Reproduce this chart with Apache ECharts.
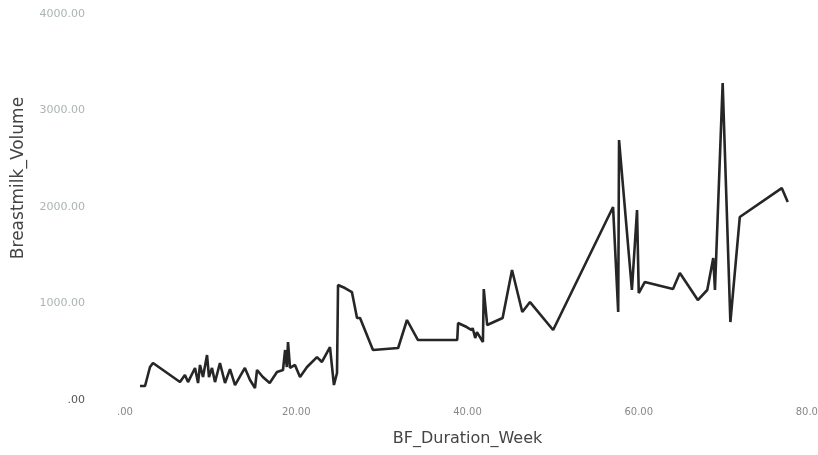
<!DOCTYPE html>
<html>
<head>
<meta charset="utf-8">
<title>Breastmilk volume by BF duration</title>
<script src="https://cdn.jsdelivr.net/npm/echarts@6/dist/echarts.min.js"></script>
<style>
  html, body { margin: 0; padding: 0; background: #fff; }
  #chart { width: 818px; height: 455px; }
</style>
</head>
<body>
<div id="chart"></div>
<script>
// weeks of breastfeeding (x) and breastmilk volume (y)
var weeks = [
  1.75, 2.34, 2.92, 3.27, 6.42, 7.0, 7.36, 8.18, 8.53, 8.76,
  9.11, 9.58, 9.81, 10.16, 10.51, 11.09, 11.68, 12.26, 12.85, 14.0,
  14.6, 15.18, 15.42, 16.1, 16.9, 17.75, 18.45, 18.7, 18.9, 19.04,
  19.27, 19.85, 20.44, 21.26, 22.42, 23.0, 23.94, 24.4, 24.76, 24.88,
  25.69, 26.5, 27.1, 27.45, 28.96, 31.9, 32.93, 34.2, 38.8, 38.9,
  39.9, 40.5, 40.6, 40.9, 41.1, 41.8, 41.9, 42.3, 44.1, 45.2,
  46.4, 47.3, 50.0, 57.0, 57.6, 57.7, 59.2, 59.8, 60.0, 60.7,
  64.0, 64.8, 66.9, 68.0, 68.7, 68.9, 69.8, 70.7, 71.8, 76.7,
  77.4
];
var volume = [
  145, 145, 342, 383, 186, 259, 186, 332, 176, 363,
  238, 466, 238, 332, 186, 383, 176, 320, 155, 332,
  207, 124, 311, 238, 176, 290, 311, 518, 342, 601,
  332, 363, 238, 342, 445, 394, 549, 155, 280, 1191,
  1160, 1119, 850, 850, 518, 539, 829, 622, 622, 798,
  756, 725, 746, 642, 704, 601, 1150, 777, 850, 1347,
  912, 1015, 725, 2000, 912, 2694, 1140, 1968, 1108, 1222,
  1150, 1316, 1036, 1140, 1471, 1140, 3284, 808, 1896, 2196,
  2051
];
var xTicks = [0, 20, 40, 60, 80];
var yTicks = [0, 1000, 2000, 3000, 4000];

function fmt(v) {
  // SPSS style: zero shows as ".00"
  return v === 0 ? '.00' : v.toFixed(2);
}

var points = [];
for (var i = 0; i < weeks.length; i++) {
  points.push([weeks[i], volume[i]]);
}

var chart = echarts.init(document.getElementById('chart'));
var option = {
  animation: false,
  backgroundColor: '#fff',
  grid: { left: 125, right: 8, top: 14, bottom: 55, outerBoundsMode: 'none' },
  xAxis: {
    type: 'value',
    min: xTicks[0],
    max: xTicks[xTicks.length - 1],
    interval: xTicks[1] - xTicks[0],
    name: 'BF_Duration_Week',
    nameLocation: 'middle',
    nameGap: 31,
    nameTextStyle: { color: '#444', fontSize: 16, fontFamily: 'DejaVu Sans' },
    axisLine: { show: false },
    axisTick: { show: false },
    splitLine: { show: false },
    axisLabel: {
      margin: 7,
      color: '#888',
      fontSize: 10,
      fontFamily: 'DejaVu Sans',
      formatter: fmt
    }
  },
  yAxis: {
    type: 'value',
    min: yTicks[0],
    max: yTicks[yTicks.length - 1],
    interval: yTicks[1] - yTicks[0],
    name: 'Breastmilk_Volume',
    nameLocation: 'middle',
    nameGap: 98,
    nameTextStyle: {
      color: '#444', fontSize: 17, fontFamily: 'DejaVu Sans',
      padding: [0, 0, 0, 58]
    },
    axisLine: { show: false },
    axisTick: { show: false },
    splitLine: { show: false },
    axisLabel: {
      margin: 40,
      fontSize: 11,
      fontFamily: 'DejaVu Sans',
      color: function (v) { return v == 0 ? '#555' : '#aab4b4'; },
      formatter: fmt
    }
  },
  series: [{
    type: 'line',
    data: points,
    symbol: 'none',
    lineStyle: { color: '#262626', width: 2.6 }
  }]
};
chart.setOption(option);
</script>
</body>
</html>
